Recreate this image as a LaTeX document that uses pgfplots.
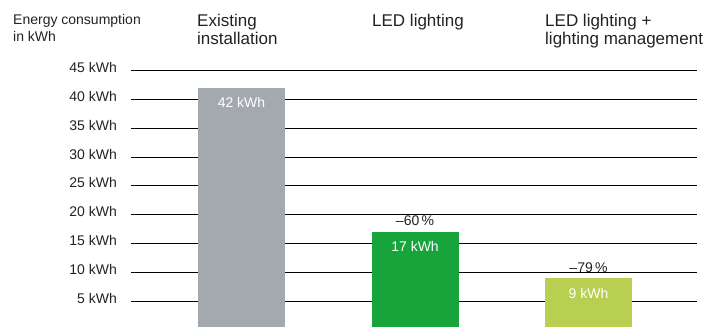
\documentclass[border=0pt]{standalone}
\usepackage{pgfplots}
\pgfplotsset{compat=1.18}
\usepackage{fontspec}
\setmainfont{Liberation Sans}
\definecolor{oldgray}{HTML}{A3A9AE}
\definecolor{ledgreen}{HTML}{17A43B}
\definecolor{mgmtgreen}{HTML}{B8CF52}
\definecolor{txt}{HTML}{222222}

\begin{document}
\begin{tikzpicture}[x=1pt,y=1pt]
    \path[use as bounding box] (0,0) rectangle (719,327);
    % headings
    \begin{scope}[every node/.style={anchor=base west, inner sep=0pt, text=txt}]
        \node[font=\fontsize{14}{16}\selectfont] at (13,302) {Energy consumption};
        \node[font=\fontsize{14}{16}\selectfont] at (13,285) {in kWh};
        \node[font=\fontsize{17}{19}\selectfont] at (197,300) {Existing};
        \node[font=\fontsize{17}{19}\selectfont] at (197,282) {installation};
        \node[font=\fontsize{17}{19}\selectfont] at (372,300) {LED lighting};
        \node[font=\fontsize{17}{19}\selectfont] at (545,300) {LED lighting +};
        \node[font=\fontsize{17}{19}\selectfont] at (545,282) {lighting management};
    \end{scope}
    \begin{axis}[
            at={(131pt,0pt)}, anchor=south west,
            scale only axis,
            width=566pt, height=327pt,
            xmin=-0.637, xmax=2.625,
            ymin=0.5, ymax=57.25,
            clip=false,
            axis line style={draw=none},
            tick style={draw=none},
            xtick=\empty,
            ytick={5,10,15,20,25,30,35,40,45},
            yticklabels={5 kWh,10 kWh,15 kWh,20 kWh,25 kWh,30 kWh,35 kWh,40 kWh,45 kWh},
            yticklabel style={anchor=base east, inner sep=0pt, xshift=-14pt, yshift=-2pt,
                font=\fontsize{14}{16}\selectfont, text=txt},
            ymajorgrids,
            major grid style={black, line width=1pt},
            bar width=87pt,
        ]
        \addplot[ybar, bar shift=0pt, fill=oldgray, draw=none,
            point meta=explicit symbolic, nodes near coords,
            nodes near coords style={anchor=base, yshift=-20pt, text=white, font=\fontsize{14}{16}\selectfont}]
            coordinates {(0,42) [42 kWh]};
        \addplot[ybar, bar shift=0pt, fill=ledgreen, draw=none,
            point meta=explicit symbolic, nodes near coords,
            nodes near coords style={anchor=base, yshift=-20pt, text=white, font=\fontsize{14}{16}\selectfont}]
            coordinates {(1,17) [17 kWh]};
        \addplot[ybar, bar shift=0pt, fill=mgmtgreen, draw=none,
            point meta=explicit symbolic, nodes near coords,
            nodes near coords style={anchor=base, yshift=-20pt, text=white, font=\fontsize{14}{16}\selectfont}]
            coordinates {(2,9) [9 kWh]};
        % savings above the bars
        \addplot[draw=none, mark=none,
            point meta=explicit symbolic, nodes near coords,
            nodes near coords style={anchor=base, yshift=6pt, text=txt, font=\fontsize{14}{16}\selectfont}]
            coordinates {(1,17) [\textendash60\,\%] (2,9) [\textendash79\,\%]};
    \end{axis}
\end{tikzpicture}
\end{document}
